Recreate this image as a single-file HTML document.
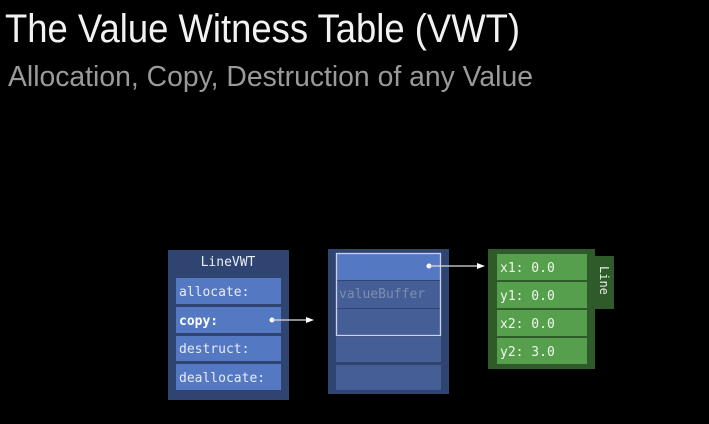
<!DOCTYPE html>
<html><head><meta charset="utf-8"><style>
html,body{margin:0;padding:0;background:#000;width:709px;height:424px;overflow:hidden}
</style></head><body>
<svg width="709" height="424" viewBox="0 0 709 424" xmlns="http://www.w3.org/2000/svg">
<rect width="709" height="424" fill="#000"/>
<text x="5" y="42" font-family="Liberation Sans, sans-serif" font-size="40" fill="#f2f2f2" textLength="515" lengthAdjust="spacingAndGlyphs">The Value Witness Table (VWT)</text>
<text x="8" y="86" font-family="Liberation Sans, sans-serif" font-size="29" fill="#9a9a9a" textLength="525" lengthAdjust="spacingAndGlyphs">Allocation, Copy, Destruction of any Value</text>

<g font-family="DejaVu Sans Mono, Liberation Mono, monospace" font-size="13">
<!-- LineVWT -->
<rect x="168" y="250" width="121" height="150" fill="#2f4470"/>
<text x="228" y="266" fill="#e8ecf5" text-anchor="middle">LineVWT</text>
<rect x="176" y="278" width="105" height="26" fill="#5578c2"/>
<text x="179" y="296" fill="#e8ecf5">allocate:</text>
<rect x="176" y="307" width="105" height="26" fill="#5578c2"/>
<text x="179" y="325" fill="#ffffff" font-weight="bold">copy:</text>
<rect x="176" y="336" width="105" height="25" fill="#5578c2"/>
<text x="179" y="353" fill="#e8ecf5">destruct:</text>
<rect x="176" y="364" width="105" height="26" fill="#5578c2"/>
<text x="179" y="382" fill="#e8ecf5">deallocate:</text>

<!-- buffer -->
<rect x="328" y="249" width="121" height="145" fill="#2f4470"/>
<rect x="336" y="253" width="105" height="27" fill="#5578c2"/>
<rect x="336" y="281" width="105" height="27" fill="#455f96"/>
<rect x="336" y="309" width="105" height="26" fill="#455f96"/>
<rect x="336" y="337" width="105" height="25" fill="#455f96"/>
<rect x="336" y="365" width="105" height="25" fill="#455f96"/>
<rect x="336.5" y="253.5" width="104" height="82" fill="none" stroke="#c8d2e8" stroke-width="1.3"/>
<text x="339" y="298" fill="#7d8db2">valueBuffer</text>

<!-- Line -->
<rect x="488" y="249" width="107" height="120" fill="#2f5a2a"/>
<rect x="595" y="256" width="19" height="53" fill="#2f5a2a"/>
<text transform="translate(600,266) rotate(90)" fill="#e8f0e6" font-size="12">Line</text>
<rect x="497" y="254" width="90" height="26" fill="#56a04d"/>
<text x="500" y="272" fill="#f0f6ee">x1: 0.0</text>
<rect x="497" y="282" width="90" height="26" fill="#56a04d"/>
<text x="500" y="300" fill="#f0f6ee">y1: 0.0</text>
<rect x="497" y="310" width="90" height="26" fill="#56a04d"/>
<text x="500" y="328" fill="#f0f6ee">x2: 0.0</text>
<rect x="497" y="338" width="90" height="26" fill="#56a04d"/>
<text x="500" y="356" fill="#f0f6ee">y2: 3.0</text>
</g>

<!-- arrows -->
<circle cx="272" cy="320" r="2.5" fill="#fff"/>
<line x1="272" y1="320" x2="308" y2="320" stroke="#ddd" stroke-width="1.2"/>
<polygon points="314,320 306,317 306,323" fill="#fff"/>
<circle cx="429" cy="266" r="2.5" fill="#fff"/>
<line x1="429" y1="266" x2="479" y2="266" stroke="#ddd" stroke-width="1.2"/>
<polygon points="485,266 477,263 477,269" fill="#fff"/>
</svg>
</body></html>
